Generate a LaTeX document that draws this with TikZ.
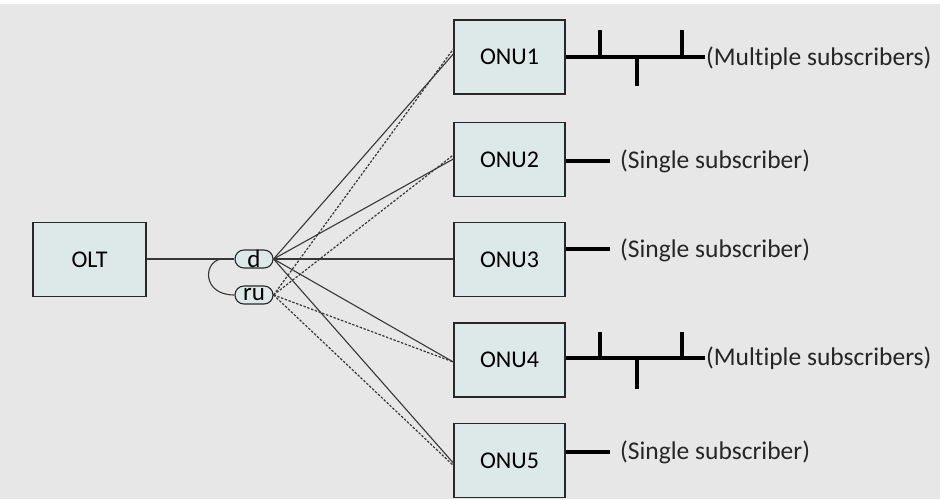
\documentclass[tikz,border=0pt]{standalone}
\usepackage{fontspec}
\setmainfont[Ligatures=NoCommon]{Carlito}
\usetikzlibrary{shapes.misc}
\definecolor{bggray}{RGB}{231,231,231}
\definecolor{boxfill}{RGB}{221,233,232}
\definecolor{edge}{RGB}{40,40,40}
\definecolor{wire}{RGB}{55,55,55}
\tikzset{
  unit/.style={draw=edge, line width=1.3pt, fill=boxfill, minimum width=111pt,
               minimum height=74pt, inner sep=0pt, font=\fontsize{24}{24}\selectfont},
  pill/.style={draw=edge, line width=1.1pt, fill=boxfill, rounded rectangle,
               minimum width=38pt, minimum height=18pt, inner sep=0pt,
               font=\fontsize{25}{25}\selectfont},
  fiber/.style={draw=wire, line width=1.1pt},
  upfiber/.style={draw=wire, line width=1.2pt, dash pattern=on 2.4pt off 1.6pt},
  drop/.style={draw=black, line width=3.2pt},
  subtext/.style={anchor=west, inner sep=0pt, text=black!85, font=\fontsize{25.5}{25.5}\selectfont}
}
\begin{document}
\begin{tikzpicture}[x=1pt,y=-1pt]
  \useasboundingbox (0,0) rectangle (946,499);
  \fill[white] (0,0) rectangle (946,499);
  \fill[bggray] (0,4) rectangle (940,499);

  % line terminal and splitter ports
  \node[unit, minimum width=113pt] (olt) at (89.5,259.5) {OLT};
  \node[pill] (d) at (254,259) {d};
  \node[pill] (ru) at (254,295) {ru};

  % network units
  \node[unit] (onu1) at (509.5,57)   {ONU1};
  \node[unit] (onu2) at (509.5,159.5) {ONU2};
  \node[unit] (onu3) at (509.5,259.5) {ONU3};
  \node[unit] (onu4) at (509.5,360)   {ONU4};
  \node[unit] (onu5) at (509.5,460.5) {ONU5};

  % feeder and loop back to the upstream port
  \draw[fiber] (olt.east |- d.west) -- (d.west);
  \coordinate (loopstart) at (221,259);
  \draw[fiber] (loopstart) .. controls (203,262) and (202,295) .. (ru.west);

  % downstream fibres
  \draw[fiber] (d.east) -- ([yshift=3pt]onu1.west);
  \draw[fiber] (d.east) -- ([yshift=0.5pt]onu2.west);
  \draw[fiber] (d.east) -- (onu3.west |- d.east);
  \draw[fiber] (d.east) -- ([yshift=-2pt]onu4.west);
  \draw[fiber] (d.east) -- ([yshift=-2.5pt]onu5.west);

  % upstream fibres
  \draw[upfiber] (ru.east) -- ([yshift=8pt]onu1.west);
  \draw[upfiber] (ru.east) -- ([yshift=4.5pt]onu2.west);
  \draw[upfiber] (ru.east) -- ([yshift=-2pt]onu4.west);
  \draw[upfiber] (ru.east) -- ([yshift=-5pt]onu5.west);

  % subscriber drops
  \coordinate (b1) at (705,57);
  \draw[drop] (onu1.east |- b1) -- (b1);
  \draw[drop] (600,57) -- (600,30) (682,57) -- (682,30) (637,57) -- (637,86);
  \node[subtext] (t1) at (706,58) {(Multiple subscribers)};

  \coordinate (b2) at (610,161);
  \draw[drop] (onu2.east |- b2) -- (b2);
  \node[subtext] (t2) at (620,161) {(Single subscriber)};

  \coordinate (b3) at (610,249);
  \draw[drop] (onu3.east |- b3) -- (b3);
  \node[subtext] (t3) at (620,250) {(Single subscriber)};

  \coordinate (b4) at (705,358);
  \draw[drop] (onu4.east |- b4) -- (b4);
  \draw[drop] (600,358) -- (600,332) (682,358) -- (682,332) (637,358) -- (637,389);
  \node[subtext] (t4) at (706,358) {(Multiple subscribers)};

  \coordinate (b5) at (610,452);
  \draw[drop] (onu5.east |- b5) -- (b5);
  \node[subtext] (t5) at (620,452) {(Single subscriber)};
\end{tikzpicture}
\end{document}
